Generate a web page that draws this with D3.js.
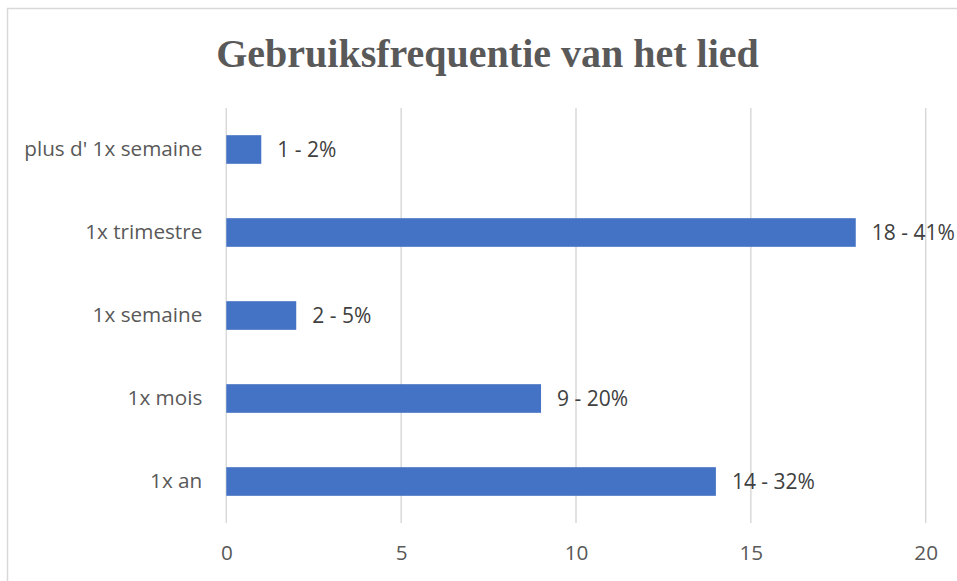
<!DOCTYPE html>
<html>
<head>
<meta charset="utf-8">
<script src="https://cdn.jsdelivr.net/npm/d3@7/dist/d3.min.js"></script>
<style>
  body { margin: 0; background: #fff; }
</style>
</head>
<body>
<div id="chart"></div>
<script>
// chart data
var categories = ["plus d' 1x semaine", "1x trimestre", "1x semaine", "1x mois", "1x an"];
var counts = [1, 18, 2, 9, 14];
var percents = [2, 41, 5, 20, 32];
var xTicks = [0, 5, 10, 15, 20];

var width = 957, height = 581;
var plotLeft = 226.3, plotRight = 925.7, plotTop = 108, plotBottom = 523;
var textColor = "#595959";
var bodyFont = "'Open Sans', sans-serif";

var svg = d3.select("#chart").append("svg")
    .attr("width", width)
    .attr("height", height);

// chart area border (cut off at right and bottom)
svg.append("rect")
    .attr("x", 7.5).attr("y", 8.5)
    .attr("width", 1200).attr("height", 1000)
    .attr("fill", "#fff")
    .attr("stroke", "#d9d9d9")
    .attr("stroke-width", 1.5);

var x = d3.scaleLinear().domain([0, 20]).range([plotLeft, plotRight]);
var y = d3.scaleBand().domain(categories).range([plotTop, plotBottom])
    .paddingInner(0.655).paddingOuter(0.3275);

// gridlines
svg.append("g")
    .selectAll("line").data(xTicks)
    .enter().append("line")
    .attr("x1", function(d) { return x(d); })
    .attr("x2", function(d) { return x(d); })
    .attr("y1", plotTop).attr("y2", plotBottom)
    .attr("stroke", "#d9d9d9")
    .attr("stroke-width", 1.5);

// title
svg.append("text")
    .attr("x", 487.5).attr("y", 66.5)
    .attr("text-anchor", "middle")
    .attr("font-family", "'Liberation Serif', 'Times New Roman', serif")
    .attr("font-weight", "bold")
    .attr("font-size", 40)
    .attr("fill", textColor)
    .text("Gebruiksfrequentie van het lied");

// bars
var rows = categories.map(function(c, i) {
    return { cat: c, count: counts[i], pct: percents[i] };
});

svg.append("g")
    .selectAll("rect").data(rows)
    .enter().append("rect")
    .attr("x", x(0))
    .attr("y", function(d) { return y(d.cat); })
    .attr("width", function(d) { return x(d.count) - x(0); })
    .attr("height", y.bandwidth())
    .attr("fill", "#4472c4");

// value labels
svg.append("g")
    .selectAll("text").data(rows)
    .enter().append("text")
    .attr("x", function(d) { return x(d.count) + 16; })
    .attr("y", function(d) { return y(d.cat) + y.bandwidth() / 2; })
    .attr("dy", "0.36em")
    .attr("font-family", bodyFont)
    .attr("font-size", 21)
    .attr("fill", "#404040")
    .text(function(d) { return d.count + " - " + d.pct + "%"; });

// category axis
var yAxis = svg.append("g")
    .attr("transform", "translate(" + plotLeft + ",0)")
    .call(d3.axisLeft(y).tickSize(0).tickPadding(24));
yAxis.select(".domain").remove();
yAxis.selectAll("text")
    .attr("font-family", bodyFont)
    .attr("font-size", 20.7)
    .attr("fill", textColor);

// value axis
var xAxis = svg.append("g")
    .attr("transform", "translate(0," + plotBottom + ")")
    .call(d3.axisBottom(x).tickValues(xTicks).tickSize(0).tickPadding(22));
xAxis.select(".domain").remove();
xAxis.selectAll("text")
    .attr("font-family", bodyFont)
    .attr("font-size", 20.7)
    .attr("fill", textColor);
</script>
</body>
</html>
